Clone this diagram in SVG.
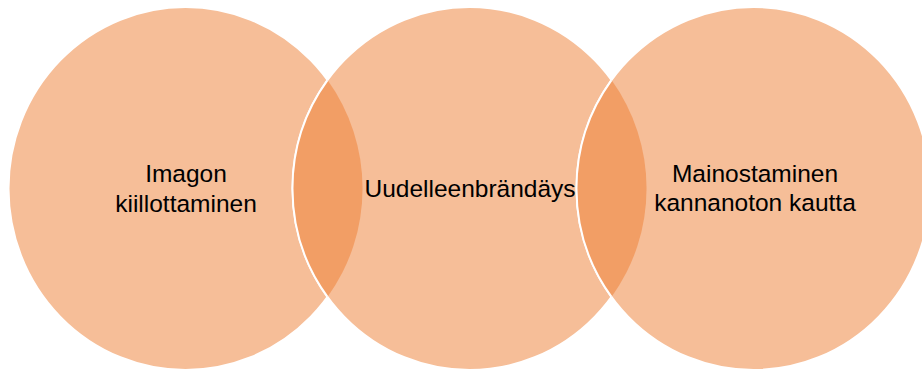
<svg xmlns="http://www.w3.org/2000/svg" width="922" height="372" viewBox="0 0 922 372">
  <style>
    .disc { fill: #F6BE98; stroke: #FFFFFF; stroke-width: 2; }
    .lens { fill: #F29E65; stroke: none; }
    .edge { fill: none; stroke: #FFFFFF; stroke-width: 2; }
    .label { font-family: "Liberation Sans", Arial, sans-serif; font-size: 24.5px; fill: #000000; text-anchor: middle; }
  </style>
  <rect width="922" height="372" fill="#FFFFFF"/>

  <!-- three overlapping ovals -->
  <g id="circle-imagon">
    <ellipse class="disc" cx="185.5" cy="188.5" rx="177" ry="181.5"/>
  </g>
  <g id="circle-uudelleenbrandays">
    <ellipse class="disc" cx="469.5" cy="188.5" rx="177" ry="181.5"/>
  </g>
  <g id="circle-mainostaminen">
    <ellipse class="disc" cx="753.5" cy="188.5" rx="177" ry="181.5"/>
  </g>

  <!-- overlap lenses and the visible white edges over them -->
  <g id="overlaps">
    <path class="lens" d="M327.5,80.1 A177,181.5 0 0 1 327.5,296.9 A177,181.5 0 0 1 327.5,80.1 Z"/>
    <path class="lens" d="M611.5,80.1 A177,181.5 0 0 1 611.5,296.9 A177,181.5 0 0 1 611.5,80.1 Z"/>
    <path class="edge" d="M327.5,80.1 A177,181.5 0 0 0 327.5,296.9"/>
    <path class="edge" d="M611.5,80.1 A177,181.5 0 0 0 611.5,296.9"/>
  </g>

  <!-- labels -->
  <g id="labels">
    <text class="label" x="186" y="182">Imagon</text>
    <text class="label" x="186" y="212">kiillottaminen</text>
    <text class="label" x="470" y="197">Uudelleenbrändäys</text>
    <text class="label" x="755" y="182">Mainostaminen</text>
    <text class="label" x="755" y="211">kannanoton kautta</text>
  </g>
</svg>
